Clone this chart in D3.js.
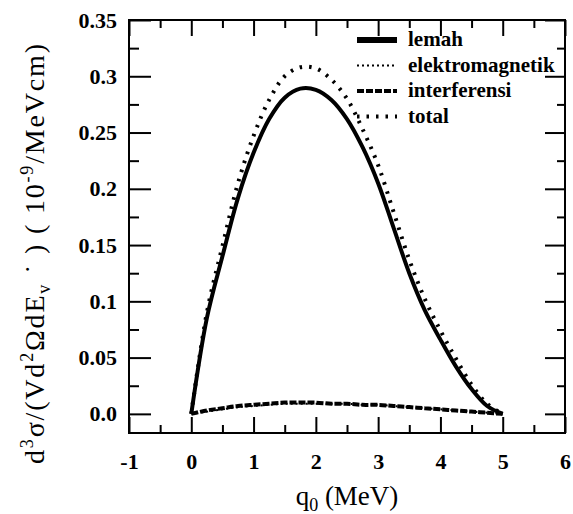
<!DOCTYPE html>
<html>
<head>
<meta charset="utf-8">
<script src="https://cdn.jsdelivr.net/npm/d3@7"></script>
<style>
  body { margin: 0; background: #fff; }
  svg { display: block; }
  text { font-family: "Liberation Serif", "DejaVu Serif", serif; fill: #000; }
</style>
</head>
<body>
<div id="chart"></div>
<script>
const q0 = [0, 0.25, 0.5, 0.75, 1.0, 1.25, 1.5, 1.75, 2.0, 2.25, 2.5, 2.75, 3.0, 3.25, 3.5, 3.75, 4.0, 4.25, 4.5, 4.75, 5.0];

// series values (10^-9 / MeV cm)
const lemah = [0, 0.085, 0.14, 0.192, 0.232, 0.262, 0.281, 0.289, 0.288, 0.279, 0.262, 0.237, 0.205, 0.165, 0.125, 0.092, 0.066, 0.042, 0.022, 0.007, 0];
const elektromagnetik = [0, 0.002, 0.004, 0.006, 0.007, 0.008, 0.009, 0.009, 0.009, 0.009, 0.009, 0.008, 0.008, 0.007, 0.006, 0.005, 0.004, 0.003, 0.002, 0.001, 0];
const interferensi = [0, 0.003, 0.005, 0.007, 0.008, 0.009, 0.010, 0.010, 0.010, 0.009, 0.009, 0.008, 0.008, 0.007, 0.006, 0.005, 0.004, 0.003, 0.002, 0.001, 0];
const total = [0, 0.09, 0.149, 0.205, 0.247, 0.279, 0.300, 0.308, 0.307, 0.297, 0.280, 0.253, 0.221, 0.179, 0.137, 0.102, 0.074, 0.049, 0.026, 0.009, 0];

// tick labels
const xTicks = [-1, 0, 1, 2, 3, 4, 5, 6];
const yTicks = [0, 0.05, 0.1, 0.15, 0.2, 0.25, 0.3, 0.35];
const yTickLabels = ["0.0", "0.05", "0.1", "0.15", "0.2", "0.25", "0.3", "0.35"];

const legendNames = ["lemah", "elektromagnetik", "interferensi", "total"];

const width = 573, height = 514;
const margin = { top: 20, right: 8, bottom: 81, left: 129 };

const svg = d3.select("#chart").append("svg")
  .attr("width", width)
  .attr("height", height);

const x = d3.scaleLinear().domain([-1, 6]).range([margin.left, width - margin.right]);
const y = d3.scaleLinear().domain([-0.017, 0.35]).range([height - margin.bottom, margin.top]);

const xMinor = d3.range(-0.5, 6, 1);
const yMinor = d3.range(0.025, 0.35, 0.05);

// axes, ticks pointing inward on all four sides
function styleAxis(g) {
  g.select(".domain").remove();
  g.selectAll("line").attr("stroke", "#000").attr("stroke-width", 2);
}

svg.append("g")
  .attr("transform", `translate(0,${y.range()[0]})`)
  .call(d3.axisBottom(x).tickValues(xTicks).tickSize(-16).tickPadding(20)
    .tickFormat(d => String(d)))
  .call(styleAxis)
  .call(g => g.selectAll("text").attr("font-size", 22).attr("font-weight", "bold"));

svg.append("g")
  .attr("transform", `translate(0,${y.range()[0]})`)
  .call(d3.axisBottom(x).tickValues(xMinor).tickSize(-8).tickFormat(""))
  .call(styleAxis);

svg.append("g")
  .attr("transform", `translate(0,${y.range()[1]})`)
  .call(d3.axisTop(x).tickValues(xTicks).tickSize(-16).tickFormat(""))
  .call(styleAxis);

svg.append("g")
  .attr("transform", `translate(0,${y.range()[1]})`)
  .call(d3.axisTop(x).tickValues(xMinor).tickSize(-8).tickFormat(""))
  .call(styleAxis);

svg.append("g")
  .attr("transform", `translate(${x.range()[0]},0)`)
  .call(d3.axisLeft(y).tickValues(yTicks).tickSize(-22).tickPadding(12)
    .tickFormat((d, i) => yTickLabels[i]))
  .call(styleAxis)
  .call(g => g.selectAll("text").attr("font-size", 22).attr("font-weight", "bold"));

svg.append("g")
  .attr("transform", `translate(${x.range()[0]},0)`)
  .call(d3.axisLeft(y).tickValues(yMinor).tickSize(-10).tickFormat(""))
  .call(styleAxis);

svg.append("g")
  .attr("transform", `translate(${x.range()[1]},0)`)
  .call(d3.axisRight(y).tickValues(yTicks).tickSize(-20).tickFormat(""))
  .call(styleAxis);

svg.append("g")
  .attr("transform", `translate(${x.range()[1]},0)`)
  .call(d3.axisRight(y).tickValues(yMinor).tickSize(-8).tickFormat(""))
  .call(styleAxis);

// frame
svg.append("rect")
  .attr("x", x.range()[0])
  .attr("y", y.range()[1])
  .attr("width", x.range()[1] - x.range()[0])
  .attr("height", y.range()[0] - y.range()[1])
  .attr("fill", "none")
  .attr("stroke", "#000")
  .attr("stroke-width", 2);

// curves
const line = d3.line()
  .x(d => x(d[0]))
  .y(d => y(d[1]))
  .curve(d3.curveCatmullRom.alpha(0.5));

const series = [
  { name: "lemah", values: lemah, width: 4, dash: null },
  { name: "elektromagnetik", values: elektromagnetik, width: 2, dash: "2,3" },
  { name: "interferensi", values: interferensi, width: 4, dash: "7,2" },
  { name: "total", values: total, width: 4, dash: "2.5,7" }
];

series.forEach(s => {
  svg.append("path")
    .datum(q0.map((q, i) => [q, s.values[i]]))
    .attr("d", line)
    .attr("fill", "none")
    .attr("stroke", "#000")
    .attr("stroke-width", s.width)
    .attr("stroke-dasharray", s.dash);
});

// legend
const legend = svg.append("g").attr("transform", "translate(357,40)");
series.forEach((s, i) => {
  const row = legend.append("g").attr("transform", `translate(0,${i * 25.5})`);
  row.append("line")
    .attr("x1", 0).attr("x2", 40)
    .attr("stroke", "#000")
    .attr("stroke-width", i === 0 ? 6 : s.width)
    .attr("stroke-dasharray", s.dash);
  row.append("text")
    .attr("x", 51).attr("y", 6)
    .attr("font-size", 21)
    .attr("font-weight", "bold")
    .text(legendNames[i]);
});

// axis titles
svg.append("text")
  .attr("x", (x.range()[0] + x.range()[1]) / 2)
  .attr("y", 505)
  .attr("text-anchor", "middle")
  .attr("font-size", 27)
  .call(t => {
    t.append("tspan").text("q");
    t.append("tspan").attr("font-size", 18).attr("dy", 6).text("0");
    t.append("tspan").attr("dy", -6).text(" (MeV)");
  });

svg.append("text")
  .attr("transform", "translate(44,254) rotate(-90)")
  .attr("text-anchor", "middle")
  .attr("font-size", 28)
  .attr("textLength", 420)
  .attr("lengthAdjust", "spacing")
  .call(t => {
    t.append("tspan").text("d");
    t.append("tspan").attr("font-size", 18).attr("dy", -11).text("3");
    t.append("tspan").attr("dy", 11).text("σ/(Vd");
    t.append("tspan").attr("font-size", 18).attr("dy", -11).text("2");
    t.append("tspan").attr("dy", 11).text("ΩdE");
    t.append("tspan").attr("font-size", 18).attr("dy", 6).text("v");
    t.append("tspan").attr("dy", -6).text(" ˙ ) ( 10");
    t.append("tspan").attr("font-size", 18).attr("dy", -11).text("-9");
    t.append("tspan").attr("dy", 11).text("/MeVcm)");
  });
</script>
</body>
</html>
